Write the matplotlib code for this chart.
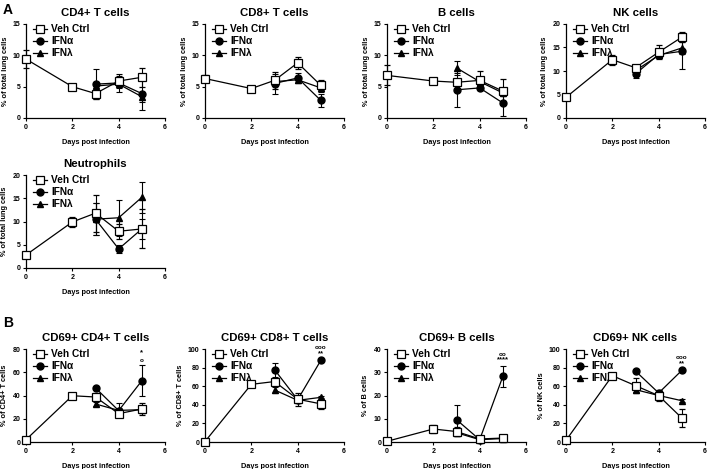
import matplotlib
matplotlib.use("Agg")
import matplotlib.pyplot as plt
from matplotlib.lines import Line2D
import numpy as np

plt.rcParams['font.family'] = ['Liberation Sans', 'DejaVu Sans']
plt.rcParams['font.weight'] = 'bold'

days = [0, 2, 3, 4, 5]
days_tx = [3, 4, 5]

# ---- panel A ----
cd4_veh = [9.4, 5.0, 3.9, 5.9, 6.5]
cd4_veh_err = [1.4, 0.3, 0.9, 0.8, 1.5]
cd4_ifna = [5.4, 5.6, 3.9]
cd4_ifna_err = [2.4, 1.5, 2.6]
cd4_ifnl = [5.1, 5.4, 3.4]
cd4_ifnl_err = [0.6, 0.6, 0.8]

cd8_veh = [6.3, 4.7, 6.0, 8.8, 5.2]
cd8_veh_err = [0.6, 0.3, 1.3, 1.0, 0.9]
cd8_ifna = [5.5, 6.4, 2.8]
cd8_ifna_err = [1.6, 0.8, 1.0]
cd8_ifnl = [5.8, 6.1, 4.8]
cd8_ifnl_err = [0.5, 0.5, 0.6]

b_veh = [6.8, 5.9, 5.7, 6.0, 4.3]
b_veh_err = [1.6, 0.3, 0.5, 1.5, 1.9]
b_ifna = [4.5, 4.8, 2.4]
b_ifna_err = [2.7, 0.4, 2.1]
b_ifnl = [8.0, 5.8, 4.0]
b_ifnl_err = [1.1, 0.4, 0.5]

nk_veh = [4.4, 12.4, 10.7, 14.0, 17.2]
nk_veh_err = [0.4, 1.1, 0.5, 1.5, 1.0]
nk_ifna = [9.4, 13.5, 14.2]
nk_ifna_err = [0.8, 0.6, 3.7]
nk_ifnl = [10.1, 13.3, 14.9]
nk_ifnl_err = [0.5, 0.5, 1.2]

neu_veh = [2.8, 9.9, 11.8, 7.9, 8.4]
neu_veh_err = [0.3, 1.0, 4.0, 1.6, 4.2]
neu_ifna = [10.5, 4.1, 8.4]
neu_ifna_err = [3.4, 0.9, 2.2]
neu_ifnl = [10.5, 10.8, 15.2]
neu_ifnl_err = [3.5, 3.9, 3.3]

# ---- panel B ----
c4_veh = [2.0, 39.8, 38.7, 24.4, 28.4]
c4_veh_err = [0.5, 2.0, 3.5, 2.0, 5.0]
c4_ifna = [46.5, 27.0, 52.7]
c4_ifna_err = [1.0, 2.0, 13.5]
c4_ifnl = [32.7, 27.2, 27.8]
c4_ifnl_err = [2.0, 6.0, 2.0]

c8_veh = [0.5, 62.0, 65.0, 46.0, 41.0]
c8_veh_err = [0.5, 2.0, 4.0, 7.0, 6.0]
c8_ifna = [77.8, 45.5, 87.8]
c8_ifna_err = [7.5, 2.0, 1.0]
c8_ifnl = [56.0, 44.8, 48.0]
c8_ifnl_err = [3.5, 2.0, 1.5]

cb_veh = [0.3, 5.6, 4.5, 1.3, 1.7]
cb_veh_err = [0.2, 1.8, 2.0, 0.3, 0.3]
cb_ifna = [9.6, 1.0, 28.2]
cb_ifna_err = [6.2, 0.3, 4.6]
cb_ifnl = [4.0, 1.0, 1.5]
cb_ifnl_err = [0.5, 0.2, 0.2]

cn_veh = [1.8, 71.3, 60.6, 49.8, 25.8]
cn_veh_err = [0.5, 1.5, 8.0, 6.0, 10.0]
cn_ifna = [76.3, 52.7, 77.0]
cn_ifna_err = [1.0, 1.5, 1.0]
cn_ifnl = [56.3, 50.0, 44.4]
cn_ifnl_err = [2.5, 1.5, 1.5]

panels = [
    ("CD4+ T cells", "% of total lung cells", 15, 5, cd4_veh, cd4_veh_err, cd4_ifna, cd4_ifna_err, cd4_ifnl, cd4_ifnl_err, None),
    ("CD8+ T cells", "% of total lung cells", 15, 5, cd8_veh, cd8_veh_err, cd8_ifna, cd8_ifna_err, cd8_ifnl, cd8_ifnl_err, None),
    ("B cells", "% of total lung cells", 15, 5, b_veh, b_veh_err, b_ifna, b_ifna_err, b_ifnl, b_ifnl_err, None),
    ("NK cells", "% of total lung cells", 20, 5, nk_veh, nk_veh_err, nk_ifna, nk_ifna_err, nk_ifnl, nk_ifnl_err, None),
    ("Neutrophils", "% of total lung cells", 20, 5, neu_veh, neu_veh_err, neu_ifna, neu_ifna_err, neu_ifnl, neu_ifnl_err, None),
    ("CD69+ CD4+ T cells", "% of CD4+ T cells", 80, 20, c4_veh, c4_veh_err, c4_ifna, c4_ifna_err, c4_ifnl, c4_ifnl_err, ("*", "o")),
    ("CD69+ CD8+ T cells", "% of CD8+ T cells", 100, 20, c8_veh, c8_veh_err, c8_ifna, c8_ifna_err, c8_ifnl, c8_ifnl_err, ("ooo", "**")),
    ("CD69+ B cells", "% of B cells", 40, 10, cb_veh, cb_veh_err, cb_ifna, cb_ifna_err, cb_ifnl, cb_ifnl_err, ("oo", "****")),
    ("CD69+ NK cells", "% of NK cells", 100, 20, cn_veh, cn_veh_err, cn_ifna, cn_ifna_err, cn_ifnl, cn_ifnl_err, ("ooo", "**")),
]

W, H = 708, 469
lefts = [26, 205, 387, 566]
width_px = 139
rows = [(24, 118), (175, 268), (349, 442)]
slots = [(0, 0), (0, 1), (0, 2), (0, 3), (1, 0), (2, 0), (2, 1), (2, 2), (2, 3)]

fig = plt.figure(figsize=(W / 100, H / 100), dpi=100)

for (title, ylab, ymax, ystep, veh, veh_e, ifna, ifna_e, ifnl, ifnl_e, stars), (r, c) in zip(panels, slots):
    top, bot = rows[r]
    ax = fig.add_axes([lefts[c] / W, 1 - bot / H, width_px / W, (bot - top) / H])
    kw = dict(color='black', lw=0.9, capsize=2.5, elinewidth=0.8, capthick=0.8, clip_on=False)
    ax.errorbar(days_tx, ifnl, yerr=ifnl_e, marker='^', ms=5, mfc='black', zorder=3, **kw)
    ax.errorbar(days_tx, ifna, yerr=ifna_e, marker='o', ms=5, mfc='black', zorder=4, **kw)
    ax.errorbar(days, veh, yerr=veh_e, marker='s', ms=5.5, mfc='white', mew=0.9, zorder=5, **kw)

    ax.set_xlim(0, 6)
    ax.set_ylim(0, ymax)
    ax.set_xticks([0, 2, 4, 6])
    ax.set_yticks(np.arange(0, ymax + 0.1, ystep))
    for s in ['top', 'right']:
        ax.spines[s].set_visible(False)
    for s in ['left', 'bottom']:
        ax.spines[s].set_linewidth(0.9)
    ax.tick_params(labelsize=5, length=2.5, width=0.8, pad=1.5)
    ax.set_title(title, fontsize=8.2, fontweight='bold', pad=6)
    ax.set_xlabel('Days post infection', fontsize=5.3, fontweight='bold', labelpad=6)
    ax.set_ylabel(ylab, fontsize=5.3, fontweight='bold', labelpad=3)

    handles = [
        Line2D([], [], color='black', lw=0.9, marker='s', ms=5.5, mfc='white', mew=0.9),
        Line2D([], [], color='black', lw=0.9, marker='o', ms=5, mfc='black'),
        Line2D([], [], color='black', lw=0.9, marker='^', ms=5, mfc='black'),
    ]
    leg = ax.legend(handles, ['Veh Ctrl', 'IFN\u03b1', 'IFN\u03bb'], loc='upper left',
                    bbox_to_anchor=(0.02, 1.04), frameon=False, fontsize=7.3,
                    handlelength=1.4, handletextpad=0.4, labelspacing=0.2, borderaxespad=0)
    for t in leg.get_texts():
        t.set_fontweight('bold')

    if stars:
        ytop = ifna[-1] + ifna_e[-1]
        ax.annotate(stars[1], (5, ytop), xytext=(0, 1.5), textcoords='offset points',
                    ha='center', va='bottom', fontsize=5.5 if '*' in stars[1] else 4.5,
                    annotation_clip=False)
        ax.annotate(stars[0], (5, ytop), xytext=(0, 6.5), textcoords='offset points',
                    ha='center', va='bottom', fontsize=5.5 if '*' in stars[0] else 4.5,
                    annotation_clip=False)

fig.text(3 / W, 1 - 3 / H, 'A', fontsize=10, fontweight='bold', va='top')
fig.text(3 / W, 1 - 316 / H, 'B', fontsize=10, fontweight='bold', va='top')

fig.savefig('out.png', dpi=100)
